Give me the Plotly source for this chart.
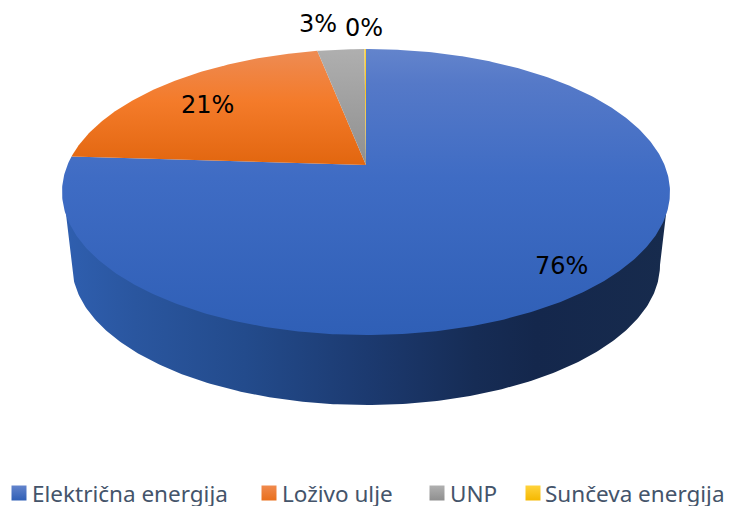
import numpy as np
import plotly.graph_objects as go

categories = ["Električna energija", "Loživo ulje", "UNP", "Sunčeva energija"]
shares = [76.0, 20.9, 3.0, 0.1]
labels = ["76%", "21%", "3%", "0%"]

# drawing geometry (page pixels)
CX, TOP_CY, TOP_RX, TOP_RY, TILT = 366, 192, 304, 143, 0.189
BOT_CY, BOT_RX, BOT_RY = 265, 294, 140


def rim(turn):
    """Point on the pie rim for a clockwise turn (0-1) from 12 o'clock, in perspective."""
    t = 2 * np.pi * np.asarray(turn, dtype=float)
    x, y = np.sin(t), np.cos(t)
    d = 1 + TILT * y
    u = x * np.sqrt(1 - TILT ** 2) / d
    v = (y + TILT) / d
    return CX + TOP_RX * u, TOP_CY - TOP_RY * v


slice_grads = [
    [[0, "#6384cc"], [0.12, "#5579c8"], [0.45, "#3f6cc4"], [1, "#2f5fb6"]],
    [[0, "#ee8d55"], [0.2, "#f08442"], [0.45, "#f47b2a"], [1, "#e2660f"]],
    [[0, "#afafaf"], [1, "#8f8f8f"]],
    [[0, "#ffd23a"], [1, "#f0b400"]],
]
slice_spans = [(49, 335), (49, 165), (49, 165), (49, 165)]

fig = go.Figure()

# side wall (its upper edge runs slightly under the top face so no seam shows)
a = np.linspace(0, np.pi, 240)
sx_top = CX + (TOP_RX - 1) * np.cos(a)
sy_top = TOP_CY - 3 + TOP_RY * np.sin(a)
sx_bot = CX + BOT_RX * np.cos(a[::-1])
sy_bot = BOT_CY + BOT_RY * np.sin(a[::-1])
fig.add_trace(go.Scatter(
    x=np.r_[sx_top, sx_bot], y=np.r_[sy_top, sy_bot], mode="lines",
    line=dict(width=0), fill="toself",
    fillgradient=dict(
        type="horizontal", start=62, stop=670,
        colorscale=[[0, "#2f5fb0"], [0.12, "#2a569f"], [0.3, "#234b8c"], [0.5, "#1c3a70"],
                    [0.68, "#162c55"], [0.78, "#14274c"], [1, "#172b4d"]],
    ),
    hoverinfo="skip", showlegend=False,
))

# top slices, in value order from 12 o'clock
start = 0.0
total = sum(shares)
for name, share, grad, span in zip(categories, shares, slice_grads, slice_spans):
    end = start + share / total
    px, py = rim(np.linspace(start, end, max(3, int(share * 6))))
    cx0, cy0 = CX, TOP_CY - TOP_RY * TILT
    fig.add_trace(go.Scatter(
        x=np.r_[cx0, px, cx0], y=np.r_[cy0, py, cy0], mode="lines",
        line=dict(width=0), fill="toself",
        fillgradient=dict(type="vertical", start=span[0], stop=span[1], colorscale=grad),
        name=name, showlegend=False, hoverinfo="name",
    ))
    start = end

# legend swatches
swatch_x = [19, 269, 437, 533]
text_x = [30, 280, 448, 543]
swatch_top = ["#6384cc", "#f08a4e", "#b0b0b0", "#ffd33c"]
swatch_bottom = ["#2f5fb6", "#e96f1c", "#8f8f8f", "#f5b800"]
fig.add_trace(go.Scatter(
    x=swatch_x, y=[493] * 4, mode="markers",
    marker=dict(symbol="square", size=15, color=swatch_top, line=dict(width=0),
                gradient=dict(type="vertical", color=swatch_bottom)),
    hoverinfo="skip", showlegend=False,
))

annotations = []
for label, (lx, ly) in zip(labels, [(561, 266), (207, 105), (318, 24), (364, 28)]):
    annotations.append(dict(x=lx, y=ly, text=label, showarrow=False, xanchor="center", yanchor="middle",
                            font=dict(family="DejaVu Sans", size=24, color="#000000")))
for name, tx in zip(categories, text_x):
    annotations.append(dict(x=tx, y=493, text=name, showarrow=False, xanchor="left", yanchor="middle",
                            font=dict(family="Noto Sans", size=22.5, color="#44546a")))

fig.update_layout(
    width=731, height=506, margin=dict(l=0, r=0, t=0, b=0), paper_bgcolor="white", plot_bgcolor="white",
    xaxis=dict(range=[0, 731], visible=False, fixedrange=True),
    yaxis=dict(range=[506, 0], visible=False, fixedrange=True),
    annotations=annotations, showlegend=False,
)
fig.write_html("out.html", config=dict(displayModeBar=False),
               post_script="document.body.style.margin='0';document.body.style.overflow='hidden';")
